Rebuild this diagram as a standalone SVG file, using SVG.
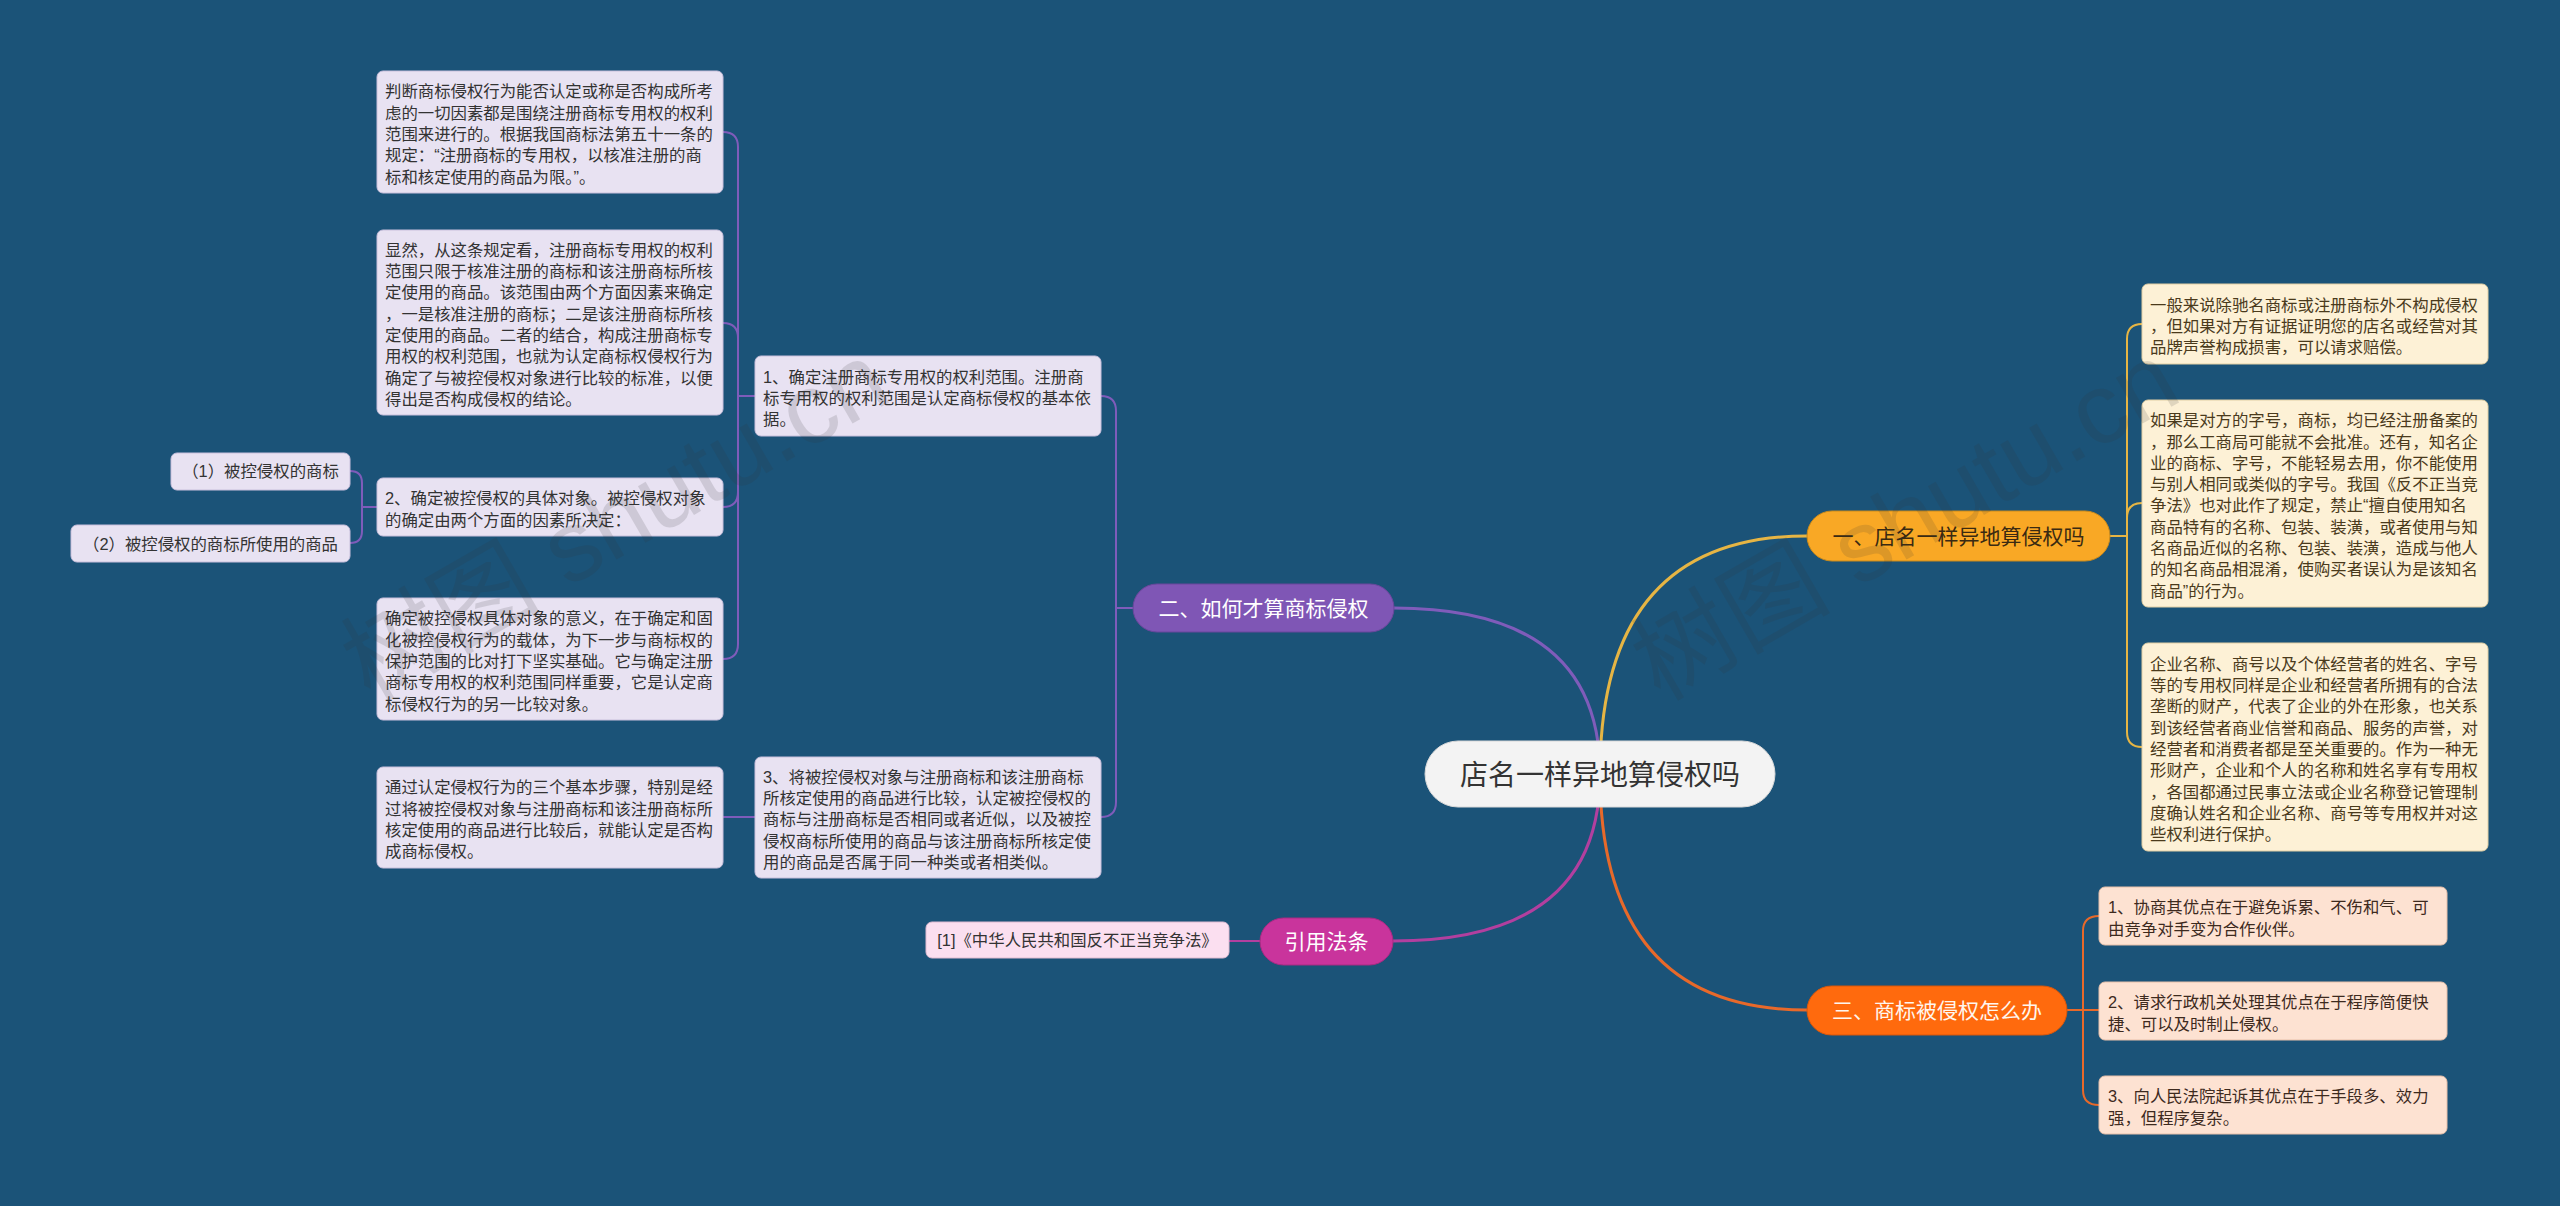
<svg xmlns="http://www.w3.org/2000/svg" width="2560" height="1206" viewBox="0 0 2560 1206">
<style>
.t{font-family:"Liberation Sans","Noto Sans CJK SC",sans-serif;font-size:16.4px;fill:#333333}
.tb{font-family:"Liberation Sans","Noto Sans CJK SC",sans-serif;font-size:16.4px;fill:#4a3a1c}
.tp{font-family:"Liberation Sans","Noto Sans CJK SC",sans-serif;font-size:16.4px;fill:#3d2a1e}
.br{font-family:"Liberation Sans","Noto Sans CJK SC",sans-serif;font-size:21px;text-anchor:middle}
.lav{fill:#e8e2f2;stroke:#c9c0dc;stroke-width:1}
.cream{fill:#fdf1d6;stroke:#e2cfa4;stroke-width:1}
.peach{fill:#fde2d2;stroke:#e7c0aa;stroke-width:1}
.pink{fill:#fbdff0;stroke:#e0bcd2;stroke-width:1}
.c{fill:none;stroke-linecap:round}
.wm{font-family:"Liberation Sans","Noto Sans CJK SC",sans-serif;font-size:100px;fill:#333333;opacity:0.14}
</style>
<rect x="0" y="0" width="2560" height="1206" fill="#1b5378"/>

<g id="connectors">
  <path class="c" d="M1600,774 Q1600,536 1807,536" stroke="#e6b544" stroke-width="3"/>
  <path class="c" d="M1600,774 Q1600,608 1394,608" stroke="#7f5cba" stroke-width="3"/>
  <path class="c" d="M1600,774 Q1600,941 1393,941" stroke="#b23f9f" stroke-width="3"/>
  <path class="c" d="M1600,774 Q1600,1010 1807,1010" stroke="#e8692a" stroke-width="3"/>
  <g stroke="#7f5cba" stroke-width="2" fill="none">
    <path d="M1133,608 H1116"/>
    <path d="M1116,608 V411 Q1116,396 1101,396"/>
    <path d="M1116,608 V802 Q1116,817 1101,817"/>
    <path d="M755,396 H738"/>
    <path d="M738,396 V147 Q738,132 723,132"/>
    <path d="M738,396 V338 Q738,323 723,323"/>
    <path d="M738,396 V492 Q738,507 723,507"/>
    <path d="M738,396 V644 Q738,659 723,659"/>
    <path d="M755,817 H723"/>
    <path d="M377,507 H362"/>
    <path d="M362,507 V483 Q362,471 350,471"/>
    <path d="M362,507 V531 Q362,543 350,543"/>
  </g>
  <g stroke="#e6b544" stroke-width="2" fill="none">
    <path d="M2110,536 H2127"/>
    <path d="M2127,536 V339 Q2127,324 2142,324"/>
    <path d="M2127,536 V518 Q2127,503 2142,503"/>
    <path d="M2127,536 V732 Q2127,747 2142,747"/>
  </g>
  <g stroke="#e8692a" stroke-width="2" fill="none">
    <path d="M2067,1010 H2083"/>
    <path d="M2083,1010 V931 Q2083,916 2099,916"/>
    <path d="M2083,1010 H2099"/>
    <path d="M2083,1010 V1090 Q2083,1105 2099,1105"/>
  </g>
  <path d="M1260,941 H1229" stroke="#b23f9f" stroke-width="2" fill="none"/>
</g>

<g id="center">
  <rect x="1425" y="741" width="350" height="66" rx="33" fill="#f3f3f3" stroke="#d8d8d8" stroke-width="1"/>
  <text x="1600" y="784.5" class="br" style="font-size:28px;fill:#333333">店名一样异地算侵权吗</text>
</g>

<g id="branch1">
  <rect x="1807" y="511" width="303" height="50" rx="25" fill="#f9a825" stroke="#c98a1c" stroke-width="1"/>
  <text x="1958.5" y="543.5" class="br" style="fill:#3a2a12">一、店名一样异地算侵权吗</text>
</g>
<g id="branch2">
  <rect x="1133" y="584" width="261" height="48" rx="24" fill="#7f56b5" stroke="#6a479c" stroke-width="1"/>
  <text x="1263.5" y="615.5" class="br" style="fill:#ffffff">二、如何才算商标侵权</text>
</g>
<g id="branch3">
  <rect x="1807" y="986" width="260" height="49" rx="24.5" fill="#ff6a0d" stroke="#d9570a" stroke-width="1"/>
  <text x="1937" y="1018" class="br" style="fill:#fff6ee">三、商标被侵权怎么办</text>
</g>
<g id="branch4">
  <rect x="1260" y="918" width="133" height="47" rx="23.5" fill="#c9349c" stroke="#a82a82" stroke-width="1"/>
  <text x="1326.5" y="949" class="br" style="fill:#ffffff">引用法条</text>
</g>

<g id="node-b2-1">
  <rect class="lav" x="755" y="356" width="346" height="80" rx="6"/>
  <text class="t" x="763" y="382.5"><tspan x="763">1、确定注册商标专用权的权利范围。注册商</tspan><tspan x="763" dy="21.3">标专用权的权利范围是认定商标侵权的基本依</tspan><tspan x="763" dy="21.3">据。</tspan></text>
</g>
<g id="node-b2-3">
  <rect class="lav" x="755" y="757" width="346" height="121" rx="6"/>
  <text class="t" x="763" y="782.8"><tspan x="763">3、将被控侵权对象与注册商标和该注册商标</tspan><tspan x="763" dy="21.3">所核定使用的商品进行比较，认定被控侵权的</tspan><tspan x="763" dy="21.3">商标与注册商标是否相同或者近似，以及被控</tspan><tspan x="763" dy="21.3">侵权商标所使用的商品与该注册商标所核定使</tspan><tspan x="763" dy="21.3">用的商品是否属于同一种类或者相类似。</tspan></text>
</g>
<g id="node-a">
  <rect class="lav" x="377" y="71" width="346" height="122" rx="6"/>
  <text class="t" x="385" y="97.3"><tspan x="385">判断商标侵权行为能否认定或称是否构成所考</tspan><tspan x="385" dy="21.3">虑的一切因素都是围绕注册商标专用权的权利</tspan><tspan x="385" dy="21.3">范围来进行的。根据我国商标法第五十一条的</tspan><tspan x="385" dy="21.3">规定：“注册商标的专用权，以核准注册的商</tspan><tspan x="385" dy="21.3">标和核定使用的商品为限。”。</tspan></text>
</g>
<g id="node-b">
  <rect class="lav" x="377" y="230" width="346" height="185" rx="6"/>
  <text class="t" x="385" y="255.8"><tspan x="385">显然，从这条规定看，注册商标专用权的权利</tspan><tspan x="385" dy="21.3">范围只限于核准注册的商标和该注册商标所核</tspan><tspan x="385" dy="21.3">定使用的商品。该范围由两个方面因素来确定</tspan><tspan x="385" dy="21.3">，一是核准注册的商标；二是该注册商标所核</tspan><tspan x="385" dy="21.3">定使用的商品。二者的结合，构成注册商标专</tspan><tspan x="385" dy="21.3">用权的权利范围，也就为认定商标权侵权行为</tspan><tspan x="385" dy="21.3">确定了与被控侵权对象进行比较的标准，以便</tspan><tspan x="385" dy="21.3">得出是否构成侵权的结论。</tspan></text>
</g>
<g id="node-c">
  <rect class="lav" x="377" y="478" width="346" height="58" rx="6"/>
  <text class="t" x="385" y="504.2"><tspan x="385">2、确定被控侵权的具体对象。被控侵权对象</tspan><tspan x="385" dy="21.3">的确定由两个方面的因素所决定：</tspan></text>
</g>
<g id="node-d">
  <rect class="lav" x="377" y="598" width="346" height="122" rx="6"/>
  <text class="t" x="385" y="624.3"><tspan x="385">确定被控侵权具体对象的意义，在于确定和固</tspan><tspan x="385" dy="21.3">化被控侵权行为的载体，为下一步与商标权的</tspan><tspan x="385" dy="21.3">保护范围的比对打下坚实基础。它与确定注册</tspan><tspan x="385" dy="21.3">商标专用权的权利范围同样重要，它是认定商</tspan><tspan x="385" dy="21.3">标侵权行为的另一比较对象。</tspan></text>
</g>
<g id="node-e">
  <rect class="lav" x="377" y="767" width="346" height="101" rx="6"/>
  <text class="t" x="385" y="793.4"><tspan x="385">通过认定侵权行为的三个基本步骤，特别是经</tspan><tspan x="385" dy="21.3">过将被控侵权对象与注册商标和该注册商标所</tspan><tspan x="385" dy="21.3">核定使用的商品进行比较后，就能认定是否构</tspan><tspan x="385" dy="21.3">成商标侵权。</tspan></text>
</g>
<g id="node-c1">
  <rect class="lav" x="171" y="453" width="179" height="37" rx="6"/>
  <text class="t" x="260.5" y="477.3" text-anchor="middle">（1）被控侵权的商标</text>
</g>
<g id="node-c2">
  <rect class="lav" x="71" y="525" width="279" height="37" rx="6"/>
  <text class="t" x="210.5" y="549.8" text-anchor="middle">（2）被控侵权的商标所使用的商品</text>
</g>
<g id="node-law">
  <rect class="pink" x="926" y="922" width="303" height="36" rx="6"/>
  <text class="t" x="1077.5" y="946" text-anchor="middle">[1]《中华人民共和国反不正当竞争法》</text>
</g>

<g id="node-r1">
  <rect class="cream" x="2142" y="284" width="346" height="80" rx="6"/>
  <text class="tb" x="2150" y="310.5"><tspan x="2150">一般来说除驰名商标或注册商标外不构成侵权</tspan><tspan x="2150" dy="21.3">，但如果对方有证据证明您的店名或经营对其</tspan><tspan x="2150" dy="21.3">品牌声誉构成损害，可以请求赔偿。</tspan></text>
</g>
<g id="node-r2">
  <rect class="cream" x="2142" y="400" width="346" height="207" rx="6"/>
  <text class="tb" x="2150" y="426.2"><tspan x="2150">如果是对方的字号，商标，均已经注册备案的</tspan><tspan x="2150" dy="21.3">，那么工商局可能就不会批准。还有，知名企</tspan><tspan x="2150" dy="21.3">业的商标、字号，不能轻易去用，你不能使用</tspan><tspan x="2150" dy="21.3">与别人相同或类似的字号。我国《反不正当竞</tspan><tspan x="2150" dy="21.3">争法》也对此作了规定，禁止“擅自使用知名</tspan><tspan x="2150" dy="21.3">商品特有的名称、包装、装潢，或者使用与知</tspan><tspan x="2150" dy="21.3">名商品近似的名称、包装、装潢，造成与他人</tspan><tspan x="2150" dy="21.3">的知名商品相混淆，使购买者误认为是该知名</tspan><tspan x="2150" dy="21.3">商品”的行为。</tspan></text>
</g>
<g id="node-r3">
  <rect class="cream" x="2142" y="643" width="346" height="208" rx="6"/>
  <text class="tb" x="2150" y="669.7"><tspan x="2150">企业名称、商号以及个体经营者的姓名、字号</tspan><tspan x="2150" dy="21.3">等的专用权同样是企业和经营者所拥有的合法</tspan><tspan x="2150" dy="21.3">垄断的财产，代表了企业的外在形象，也关系</tspan><tspan x="2150" dy="21.3">到该经营者商业信誉和商品、服务的声誉，对</tspan><tspan x="2150" dy="21.3">经营者和消费者都是至关重要的。作为一种无</tspan><tspan x="2150" dy="21.3">形财产，企业和个人的名称和姓名享有专用权</tspan><tspan x="2150" dy="21.3">，各国都通过民事立法或企业名称登记管理制</tspan><tspan x="2150" dy="21.3">度确认姓名和企业名称、商号等专用权并对这</tspan><tspan x="2150" dy="21.3">些权利进行保护。</tspan></text>
</g>
<g id="node-p1">
  <rect class="peach" x="2099" y="887" width="348" height="58" rx="6"/>
  <text class="tp" x="2108" y="913.2"><tspan x="2108">1、协商其优点在于避免诉累、不伤和气、可</tspan><tspan x="2108" dy="21.8">由竞争对手变为合作伙伴。</tspan></text>
</g>
<g id="node-p2">
  <rect class="peach" x="2099" y="982" width="348" height="58" rx="6"/>
  <text class="tp" x="2108" y="1008.2"><tspan x="2108">2、请求行政机关处理其优点在于程序简便快</tspan><tspan x="2108" dy="21.8">捷、可以及时制止侵权。</tspan></text>
</g>
<g id="node-p3">
  <rect class="peach" x="2099" y="1076" width="348" height="58" rx="6"/>
  <text class="tp" x="2108" y="1102.2"><tspan x="2108">3、向人民法院起诉其优点在于手段多、效力</tspan><tspan x="2108" dy="21.8">强，但程序复杂。</tspan></text>
</g>

<g id="watermarks">
  <text class="wm" x="370" y="702" transform="rotate(-30 370 702)">树图 shutu.cn</text>
  <text class="wm" x="1660" y="702" transform="rotate(-30 1660 702)">树图 shutu.cn</text>
</g>
</svg>
